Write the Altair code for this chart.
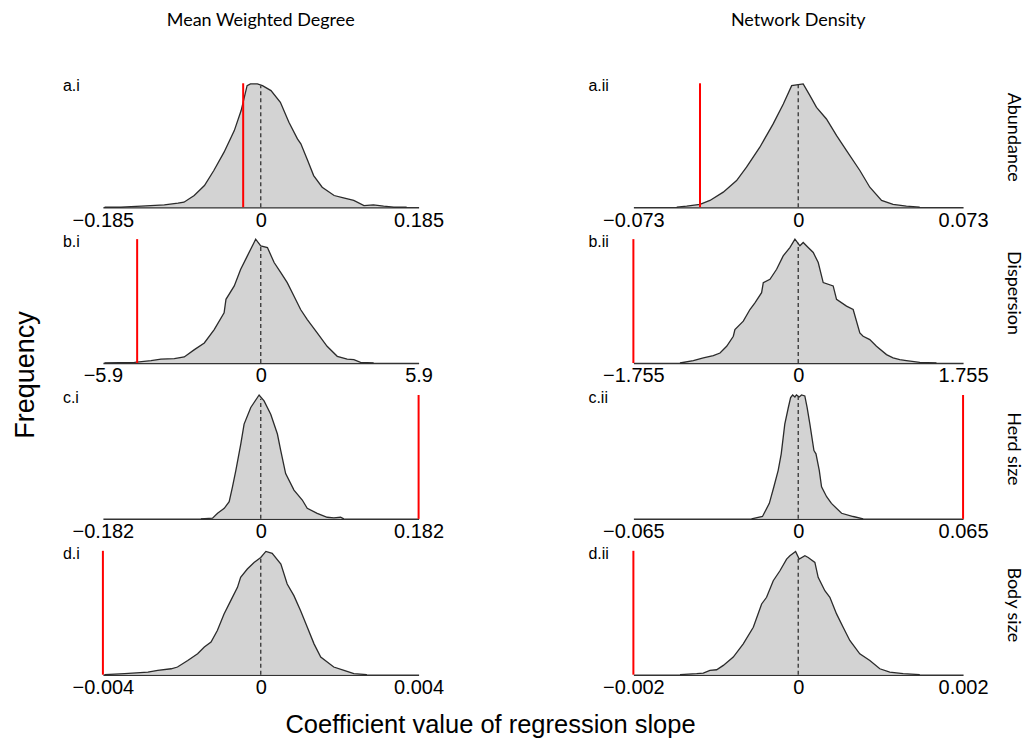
import altair as alt
import pandas as pd

# ---------------- data ----------------
panel_ids = ["a.i", "a.ii", "b.i", "b.ii", "c.i", "c.ii", "d.i", "d.ii"]
limits = [0.185, 0.073, 5.9, 1.755, 0.182, 0.065, 0.004, 0.002]
observed = [-0.0206, -0.0435, -4.62, -1.755, 0.182, 0.065, -0.004, -0.002]
zero_heights = [0.98, 0.99, 0.95, 0.97, 0.97, 0.99, 0.95, 0.94]
col_titles = ["Mean Weighted Degree", "Network Density"]
row_titles = ["Abundance", "Dispersion", "Herd size", "Body size"]
y_label = "Frequency"
x_label = "Coefficient value of regression slope"

ai_x = [-0.183, -0.164, -0.140, -0.113, -0.097, -0.090, -0.078, -0.066, -0.055, -0.043,
        -0.031, -0.023, -0.016, -0.012, -0.004, 0.002, 0.012, 0.023, 0.033, 0.043,
        0.047, 0.055, 0.062, 0.072, 0.086, 0.097, 0.109, 0.121, 0.132, 0.144, 0.156, 0.171]
ai_y = [0, 0, 0.008, 0.019, 0.032, 0.040, 0.094, 0.175, 0.296, 0.444,
        0.618, 0.780, 0.981, 0.995, 0.995, 0.981, 0.941, 0.847, 0.685, 0.551,
        0.511, 0.376, 0.255, 0.161, 0.094, 0.075, 0.054, 0.013, 0.019, 0.008, 0, 0]

aii_x = [-0.0538, -0.0494, -0.0435, -0.0391, -0.0332, -0.0273, -0.0229, -0.0170, -0.0111, -0.0066,
         -0.0029, 0.0, 0.0022, 0.0052, 0.0081, 0.0125, 0.0170, 0.0214, 0.0273, 0.0317,
         0.0369, 0.0420, 0.0479, 0.0538]
aii_y = [0, 0.008, 0.022, 0.054, 0.121, 0.215, 0.323, 0.484, 0.672, 0.833,
         0.981, 0.989, 0.995, 0.901, 0.806, 0.712, 0.578, 0.457, 0.296, 0.161,
         0.054, 0.022, 0.008, 0]

bi_x = [-5.84, -4.72, -4.10, -3.73, -3.23, -2.86, -2.48, -2.11, -1.74, -1.37,
        -1.30, -0.99, -0.75, -0.50, -0.25, -0.19, 0.0, 0.25, 0.50, 0.75,
        0.99, 1.24, 1.49, 1.74, 2.11, 2.48, 2.86, 3.23, 3.48, 3.73, 4.22]
bi_y = [0, 0.005, 0.019, 0.032, 0.035, 0.049, 0.108, 0.162, 0.270, 0.405,
        0.514, 0.622, 0.757, 0.865, 0.973, 1.0, 0.946, 0.932, 0.811, 0.730,
        0.649, 0.541, 0.432, 0.351, 0.243, 0.135, 0.054, 0.032, 0.027, 0.005, 0]

bii_x = [-1.259, -1.117, -1.010, -0.904, -0.833, -0.762, -0.691, -0.674, -0.585, -0.514,
         -0.461, -0.390, -0.372, -0.301, -0.230, -0.160, -0.089, -0.035, 0.018, 0.053,
         0.106, 0.160, 0.213, 0.266, 0.372, 0.408, 0.514, 0.585, 0.656, 0.691,
         0.762, 0.833, 0.940, 1.010, 1.081, 1.152, 1.294, 1.472]
bii_y = [0, 0.019, 0.041, 0.059, 0.081, 0.135, 0.216, 0.270, 0.338, 0.432,
         0.486, 0.568, 0.649, 0.676, 0.757, 0.865, 0.932, 1.0, 0.946, 0.973,
         0.932, 0.892, 0.811, 0.649, 0.622, 0.514, 0.459, 0.432, 0.243, 0.216,
         0.189, 0.135, 0.068, 0.041, 0.027, 0.019, 0.005, 0]

ci_x = [-0.0690, -0.0556, -0.0498, -0.0421, -0.0364, -0.0326, -0.0287, -0.0230, -0.0192, -0.0115,
        -0.0019, 0.0038, 0.0115, 0.0192, 0.0230, 0.0287, 0.0383, 0.0479, 0.0536, 0.0651,
        0.0766, 0.0843, 0.0920, 0.0958]
ci_y = [0, 0.005, 0.045, 0.085, 0.139, 0.259, 0.392, 0.605, 0.765, 0.899,
        1.0, 0.952, 0.845, 0.685, 0.552, 0.365, 0.232, 0.152, 0.085, 0.045,
        0.013, 0.008, 0.013, 0]

cii_x = [-0.0184, -0.0141, -0.0114, -0.0096, -0.0079, -0.0067, -0.0053, -0.0039, -0.0030, -0.0022,
         -0.0013, -0.0007, 0.0004, 0.0013, 0.0026, 0.0035, 0.0046, 0.0062, 0.0070, 0.0083,
         0.0092, 0.0112, 0.0131, 0.0171, 0.0217, 0.0256]
cii_y = [0, 0.019, 0.125, 0.259, 0.392, 0.525, 0.765, 0.899, 0.979, 1.0,
         0.984, 1.0, 0.984, 1.0, 0.992, 0.899, 0.765, 0.552, 0.525, 0.392,
         0.259, 0.179, 0.125, 0.045, 0.019, 0]

di_x = [-0.00396, -0.00345, -0.00286, -0.00261, -0.00227, -0.00211, -0.00185, -0.00160, -0.00143, -0.00126,
        -0.00110, -0.00093, -0.00076, -0.00059, -0.00051, -0.00034, -0.00017, 0.0, 0.00013, 0.00029,
        0.00051, 0.00067, 0.00084, 0.00101, 0.00118, 0.00135, 0.00152, 0.00185, 0.00211, 0.00236, 0.00269]
di_y = [0, 0.008, 0.021, 0.035, 0.048, 0.062, 0.115, 0.169, 0.223, 0.263,
        0.357, 0.490, 0.598, 0.705, 0.786, 0.853, 0.906, 0.946, 0.995, 0.979,
        0.893, 0.732, 0.638, 0.517, 0.383, 0.249, 0.142, 0.062, 0.035, 0.008, 0]

dii_x = [-0.001434, -0.001232, -0.001152, -0.001071, -0.000990, -0.000909, -0.000788, -0.000667, -0.000545, -0.000444,
         -0.000384, -0.000303, -0.000222, -0.000141, -0.000101, -0.000032, 0.000012, 0.000081, 0.000121, 0.000202,
         0.000242, 0.000323, 0.000384, 0.000465, 0.000545, 0.000626, 0.000747, 0.000869, 0.000990, 0.001111,
         0.001273, 0.001475]
dii_y = [0, 0.008, 0.013, 0.035, 0.040, 0.075, 0.142, 0.249, 0.383, 0.571,
         0.625, 0.759, 0.839, 0.933, 0.960, 0.995, 0.933, 0.960, 0.946, 0.906,
         0.786, 0.678, 0.625, 0.491, 0.383, 0.276, 0.169, 0.115, 0.048, 0.021,
         0.008, 0]

curves_x = [ai_x, aii_x, bi_x, bii_x, ci_x, cii_x, di_x, dii_x]
curves_y = [ai_y, aii_y, bi_y, bii_y, ci_y, cii_y, di_y, dii_y]

# ---------------- layout / style ----------------
WIDTHS = [316, 330]
HEIGHT = 124
SANS = "Liberation Sans"
TITLE_FONT = "Lato"


def text_layer(label, x, y, **kw):
    return alt.Chart(pd.DataFrame({"t": [label]})).mark_text(**kw).encode(
        x=alt.value(x), y=alt.value(y), text="t:N")


def make_panel(k):
    r, c = divmod(k, 2)
    L = limits[k]
    w = WIDTHS[c]
    xenc = alt.X("x:Q",
                 scale=alt.Scale(domain=[-L, L], nice=False, zero=False),
                 axis=alt.Axis(values=[-L, 0, L], format=".4~g", title=None,
                               ticks=False, tickSize=0, grid=False,
                               domainColor="#333333", domainWidth=1.5,
                               labelFont=SANS, labelFontSize=20, labelColor="#000000",
                               labelPadding=3, labelFlush=False, labelOverlap=False))
    yenc = alt.Y("y:Q", scale=alt.Scale(domain=[0, 1], nice=False), axis=None)
    curve = pd.DataFrame({"x": curves_x[k], "y": curves_y[k]})
    area = alt.Chart(curve).mark_area(color="#d3d3d3", opacity=1).encode(x=xenc, y=yenc)
    line = alt.Chart(curve).mark_line(color="#2b2b2b", strokeWidth=1.3).encode(x=xenc, y=yenc)
    zero = alt.Chart(pd.DataFrame({"x": [0.0], "y": [0.0], "y2": [zero_heights[k]]})).mark_rule(
        color="#333333", strokeWidth=1.3, strokeDash=[4, 3]).encode(x=xenc, y=yenc, y2="y2:Q")
    red = alt.Chart(pd.DataFrame({"x": [observed[k]], "y": [0.0], "y2": [1.0]})).mark_rule(
        color="#ff0000", strokeWidth=2).encode(x=xenc, y=yenc, y2="y2:Q")
    layers = [area, line, zero, red,
              text_layer(panel_ids[k], -40 if c == 0 else -45, 3,
                         align="left", baseline="middle", font=SANS, fontSize=16, color="#000000")]
    if r == 0:
        layers.append(text_layer(col_titles[c], w / 2, -57, align="center", baseline="alphabetic",
                                 font=TITLE_FONT, fontSize=18, color="#000000"))
    if c == 1:
        layers.append(text_layer(row_titles[r], 375, 54, align="center", baseline="alphabetic",
                                 angle=90, font=TITLE_FONT, fontSize=18, color="#000000"))
    if k == 4:
        layers.append(text_layer(y_label, -69, -20, align="center", baseline="alphabetic",
                                 angle=270, font=SANS, fontSize=27, color="#000000"))
    if k == 6:
        layers.append(text_layer(x_label, 388, 182, align="center", baseline="alphabetic",
                                 font=SANS, fontSize=25.5, color="#000000"))
    return alt.layer(*layers).properties(width=w, height=HEIGHT)


panels = [make_panel(k) for k in range(8)]

chart = alt.concat(*panels, columns=2, spacing={"row": 32, "column": 215},
                   bounds="flush", align="each").properties(
    padding={"left": 3, "top": 4, "right": 4, "bottom": 1}
).configure_view(strokeWidth=0)

chart.save("out.html", embed_options={"renderer": "svg", "actions": False})
